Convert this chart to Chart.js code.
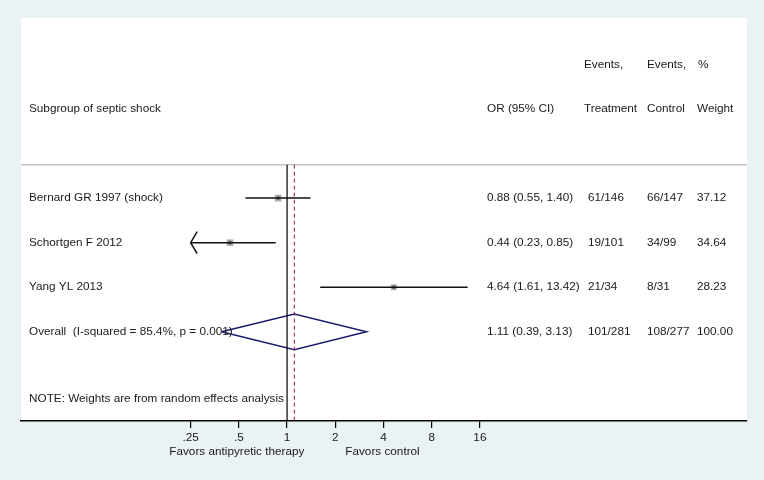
<!DOCTYPE html>
<html>
<head>
<meta charset="utf-8">
<script src="https://cdn.jsdelivr.net/npm/chart.js@4"></script>
<style>
  html, body { margin: 0; padding: 0; background: #eaf2f3; }
  canvas { display: block; }
</style>
</head>
<body>
<canvas id="forest" width="764" height="480"></canvas>
<script>
// data
const studies = ['Bernard GR 1997 (shock)', 'Schortgen F 2012', 'Yang YL 2013'];
const oddsRatio = [0.88, 0.44, 4.64];
const ciLow = [0.55, 0.23, 1.61];
const ciHigh = [1.40, 0.85, 13.42];
const eventsTreatment = ['61/146', '19/101', '21/34'];
const eventsControl = ['66/147', '34/99', '8/31'];
const weights = [37.12, 34.64, 28.23];

const overallLabel = 'Overall  (I-squared = 85.4%, p = 0.001)';
const overallOR = 1.11;
const overallLow = 0.39;
const overallHigh = 3.13;
const overallTreatment = '101/281';
const overallControl = '108/277';
const overallWeight = 100.00;

const tickValues = [0.25, 0.5, 1, 2, 4, 8, 16];
const tickLabels = ['.25', '.5', '1', '2', '4', '8', '16'];
const noteText = 'NOTE: Weights are from random effects analysis';

const FAMILY = '"Liberation Sans", Arial, sans-serif';
const SIZE = 11.75;
const FONT = `${SIZE}px ${FAMILY}`;
const TXT = '#1a1a1a';
const colX = { label: 29, ci: 487, treat: 588, ctrl: 647, weight: 697 };
const fmtCI = (o, l, h) => `${o.toFixed(2)} (${l.toFixed(2)}, ${h.toFixed(2)})`;

const xLo = tickValues[0], xHi = tickValues[tickValues.length - 1];
const clip = v => Math.min(Math.max(v, xLo), xHi);

const datasets = [];
// null line and overall-effect line
datasets.push({ data: [{ x: 1, y: 0.25 }, { x: 1, y: 6 }], showLine: true, borderColor: '#000', borderWidth: 1.2, pointRadius: 0 });
datasets.push({ data: [{ x: overallOR, y: 0.25 }, { x: overallOR, y: 6 }], showLine: true, borderColor: '#9b1b30', borderWidth: 1, borderDash: [4, 3], pointRadius: 0 });
// confidence intervals
studies.forEach((s, i) => {
  datasets.push({ data: [{ x: clip(ciLow[i]), y: i + 1 }, { x: clip(ciHigh[i]), y: i + 1 }], showLine: true, borderColor: '#111', borderWidth: 1.5, pointRadius: 0 });
});
// weight boxes
datasets.push({
  data: studies.map((s, i) => ({ x: oddsRatio[i], y: i + 1 })),
  pointStyle: 'rect', pointRadius: weights.map(w => 4.8 * Math.sqrt(w / weights[0])),
  backgroundColor: 'rgba(140,140,140,0.7)', borderWidth: 0, showLine: false
});
// point estimates
datasets.push({
  data: studies.map((s, i) => ({ x: oddsRatio[i], y: i + 1 })),
  pointStyle: 'circle', pointRadius: 1.9, backgroundColor: '#000', borderWidth: 0, showLine: false
});
// overall diamond
datasets.push({
  data: [{ x: overallLow, y: 4 }, { x: overallOR, y: 3.6 }, { x: overallHigh, y: 4 }, { x: overallOR, y: 4.4 }, { x: overallLow, y: 4 }],
  showLine: true, borderColor: '#1c1c6e', borderWidth: 1.5, pointRadius: 0, tension: 0
});

const decor = {
  id: 'decor',
  beforeDraw(chart) {
    const { ctx, chartArea: a } = chart;
    ctx.save();
    ctx.fillStyle = '#eaf2f3';
    ctx.fillRect(0, 0, chart.width, chart.height);
    ctx.fillStyle = '#fff';
    ctx.fillRect(a.left, a.top, a.right - a.left, a.bottom - a.top);
    // separator under headers
    const yS = chart.scales.y.getPixelForValue(0.25);
    ctx.strokeStyle = '#c4c4c4';
    ctx.lineWidth = 1.5;
    ctx.beginPath();
    ctx.moveTo(a.left, yS);
    ctx.lineTo(a.right, yS);
    ctx.stroke();
    ctx.restore();
  },
  afterDatasetsDraw(chart) {
    const { ctx } = chart;
    const x = chart.scales.x, y = chart.scales.y;
    ctx.save();
    // arrows where the CI runs off the axis
    ctx.strokeStyle = '#111';
    ctx.lineWidth = 1.5;
    studies.forEach((s, i) => {
      const py = y.getPixelForValue(i + 1);
      if (ciLow[i] < xLo) {
        const px = x.getPixelForValue(xLo);
        ctx.beginPath();
        ctx.moveTo(px + 6.5, py - 11);
        ctx.lineTo(px, py);
        ctx.lineTo(px + 6.5, py + 11);
        ctx.stroke();
      }
      if (ciHigh[i] > xHi) {
        const px = x.getPixelForValue(xHi);
        ctx.beginPath();
        ctx.moveTo(px - 6.5, py - 11);
        ctx.lineTo(px, py);
        ctx.lineTo(px - 6.5, py + 11);
        ctx.stroke();
      }
    });

    // text columns
    ctx.font = FONT;
    ctx.fillStyle = TXT;
    ctx.textBaseline = 'middle';
    ctx.textAlign = 'left';
    const put = (t, px, row) => ctx.fillText(t, px, y.getPixelForValue(row));
    const putAfter = (first, second, row) => {
      put(first, colX.ci, row);
      const end = colX.ci + ctx.measureText(first).width;
      put(second, Math.max(colX.treat, end), row);
    };

    put('Events,', colX.treat - 4, -2);
    put('Events,', colX.ctrl, -2);
    put('%', colX.weight + 1, -2);
    put('Subgroup of septic shock', colX.label, -1);
    put('OR (95% CI)', colX.ci, -1);
    put('Treatment', colX.treat - 4, -1);
    put('Control', colX.ctrl, -1);
    put('Weight', colX.weight, -1);

    studies.forEach((s, i) => {
      const row = i + 1;
      put(s, colX.label, row);
      putAfter(fmtCI(oddsRatio[i], ciLow[i], ciHigh[i]), eventsTreatment[i], row);
      put(eventsControl[i], colX.ctrl, row);
      put(weights[i].toFixed(2), colX.weight, row);
    });
    put(overallLabel, colX.label, 4);
    putAfter(fmtCI(overallOR, overallLow, overallHigh), overallTreatment, 4);
    put(overallControl, colX.ctrl, 4);
    put(overallWeight.toFixed(2), colX.weight, 4);
    put(noteText, colX.label, 5.5);

    // axis captions
    ctx.textAlign = 'center';
    const capY = chart.chartArea.bottom + 31;
    ctx.fillText('Favors antipyretic therapy', x.getPixelForValue(0.5) - 2, capY);
    ctx.fillText('Favors control', x.getPixelForValue(4) - 1, capY);
    ctx.restore();
  }
};

new Chart(document.getElementById('forest'), {
  type: 'scatter',
  data: { datasets },
  options: {
    responsive: false,
    animation: false,
    layout: { padding: { left: 21, right: 17, top: 18, bottom: 0 } },
    plugins: { legend: { display: false }, tooltip: { enabled: false } },
    scales: {
      x: {
        type: 'logarithmic',
        bounds: 'data',
        min: 0.0218,
        max: 745,
        afterBuildTicks: s => { s.ticks = tickValues.map(v => ({ value: v })); },
        afterFit: s => { s.height = 59; },
        grid: { drawOnChartArea: false, drawTicks: true, tickLength: 7, color: '#000', lineWidth: 1.2 },
        border: { display: true, color: '#000', width: 1.5 },
        ticks: {
          autoSkip: false, maxRotation: 0, padding: 3, color: TXT,
          font: { family: FAMILY, size: SIZE },
          callback: (v, i) => tickLabels[i]
        }
      },
      y: { type: 'linear', display: false, reverse: true, min: -3.04, max: 6 }
    }
  },
  plugins: [decor]
});
</script>
</body>
</html>
